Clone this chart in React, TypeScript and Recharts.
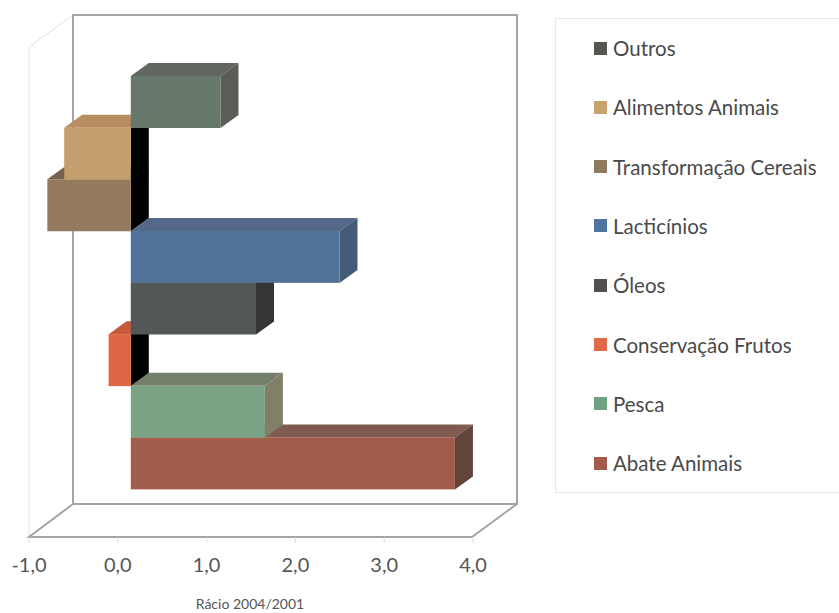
import React from "react";
import { BarChart, Bar, XAxis, YAxis, Legend, Label } from "recharts";

// top to bottom, as in the legend
const categories = [
  "Outros",
  "Alimentos Animais",
  "Transformação Cereais",
  "Lacticínios",
  "Óleos",
  "Conservação Frutos",
  "Pesca",
  "Abate Animais",
];
const ratios = [1.01, -0.75, -0.94, 2.35, 1.41, -0.25, 1.51, 3.65];
const xTicks = [-1, 0, 1, 2, 3, 4];

const frontColors = ["#67776a", "#c49f6d", "#93795d", "#527399", "#545758", "#dd6745", "#7ba285", "#a25c4c"];
const topColors = ["#616660", "#b88e60", "#76614f", "#55688a", "#4f5152", "#c55a3c", "#74806b", "#7f5a4f"];
const sideColors = ["#5a5c55", "#000000", "#000000", "#465b78", "#353535", "#000000", "#817f68", "#63443b"];
const legendColors = ["#555650", "#c8a36d", "#8f7a5d", "#4f749e", "#505050", "#e0694a", "#6fa283", "#a65b4a"];

const rows = categories.map((name, i) => ({ name, [name]: ratios[i] }));

// negatives sit behind, then the positive bars from the bottom up
const indexes = categories.map((_, i) => i).reverse();
const paintOrder = [
  ...indexes.filter((i) => ratios[i] < 0),
  ...indexes.filter((i) => ratios[i] >= 0),
];

const FONT = "Lato, sans-serif";
const BAR_DX = 18;
const BAR_DY = 13;
const AXIS_SHIFT_X = 13; // bars stand behind the front edge of the floor
const FLOOR_Y = 537;

function Bar3D(props: any) {
  const { x, y, width, height, index3d } = props;
  if (!width) return null;
  const left = Math.min(x, x + width);
  const right = Math.max(x, x + width);
  const bottom = y + height;
  const top = `${left},${y} ${right},${y} ${right + BAR_DX},${y - BAR_DY} ${left + BAR_DX},${y - BAR_DY}`;
  const side = `${right},${y} ${right + BAR_DX},${y - BAR_DY} ${right + BAR_DX},${bottom - BAR_DY} ${right},${bottom}`;
  return (
    <g>
      <polygon points={top} fill={topColors[index3d]} />
      <polygon points={side} fill={sideColors[index3d]} />
      <rect x={left} y={y} width={right - left} height={height} fill={frontColors[index3d]} />
    </g>
  );
}

function XTick(props: any) {
  const { x, payload } = props;
  const px = x - AXIS_SHIFT_X;
  return (
    <g>
      <line x1={px} x2={px} y1={FLOOR_Y} y2={FLOOR_Y + 6} stroke="#dcdcdc" />
      <text x={px} y={572} textAnchor="middle" fontFamily={FONT} fontSize={20} fill="#555555">
        {payload.value.toFixed(1).replace(".", ",")}
      </text>
    </g>
  );
}

function LegendBox() {
  return (
    <div style={{ width: 284, height: 475, boxSizing: "border-box", border: "1px solid #e8e8e8", borderRight: "none", background: "#fff", position: "relative" }}>
      {categories.map((name, i) => (
        <div key={name} style={{ position: "absolute", left: 38, top: 29 + i * 59.3 - 13, height: 26, display: "flex", alignItems: "center", fontFamily: FONT, fontSize: 20.5, color: "#4a4a4a", whiteSpace: "nowrap" }}>
          <span style={{ width: 13, height: 13, background: legendColors[i], marginRight: 6, display: "inline-block" }} />
          {name}
        </div>
      ))}
    </div>
  );
}

export default function App() {
  return (
    <div style={{ position: "absolute", left: 0, top: 0 }}>
      <BarChart
        width={839}
        height={613}
        data={rows}
        layout="vertical"
        barCategoryGap={0}
        margin={{ top: 76, right: 353, bottom: 123, left: 42 }}
      >
        {/* walls and floor */}
        <g fill="none">
          <polyline points="29,537 29,47 73,15" stroke="#e2e2e2" strokeWidth={1} />
          <rect x={73} y={15} width={444} height={489} stroke="#a8a3a3" strokeWidth={2} />
          <polyline points="73,504 29,537 472,537 517,504" stroke="#a8a3a3" strokeWidth={2} />
        </g>
        <XAxis
          type="number"
          domain={[-1, 4]}
          ticks={xTicks}
          interval={0}
          height={1}
          axisLine={false}
          tickLine={false}
          tick={<XTick />}
        >
          <Label
            position="bottom"
            offset={109}
            dx={-14}
            value="Rácio 2004/2001"
            style={{ fontFamily: FONT, fontSize: 14, fill: "#555555" }}
          />
        </XAxis>
        <YAxis type="category" dataKey="name" hide />
        <Legend
          layout="vertical"
          align="center"
          verticalAlign="middle"
          content={<LegendBox />}
          wrapperStyle={{ position: "absolute", left: 555, top: 18, width: 284 }}
        />
        {paintOrder.map((i) => (
          <Bar
            key={categories[i]}
            dataKey={categories[i]}
            stackId="ratio"
            isAnimationActive={false}
            shape={(p: any) => <Bar3D {...p} index3d={i} />}
          />
        ))}
      </BarChart>
    </div>
  );
}
